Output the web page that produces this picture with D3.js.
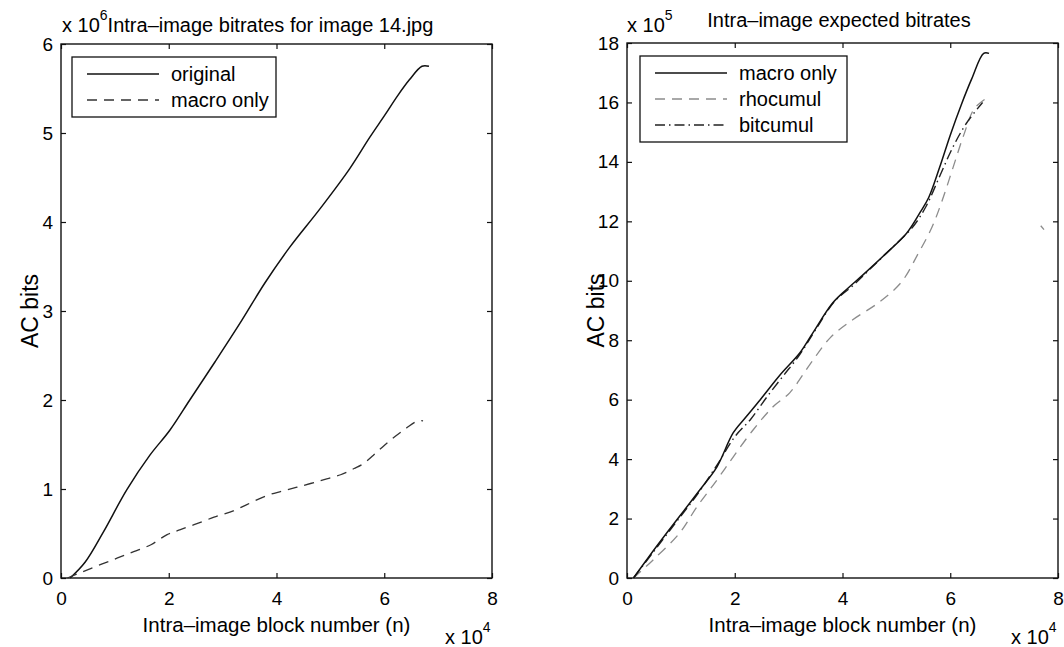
<!DOCTYPE html>
<html>
  <head>
    <meta charset="utf-8">
    <script src="https://cdn.jsdelivr.net/npm/d3@7"></script>
    <style>
      body { margin: 0; background: #fff; }
      text { font-family: "Liberation Sans", Arial, sans-serif; fill: #000; }
      .tick text { font-size: 19px; }
      .tick line { stroke: #111; stroke-width: 1.2; }
      .box { fill: none; stroke: #111; stroke-width: 1.4; }
      .legendbox { fill: #fff; stroke: #111; stroke-width: 1.3; }
    </style>
  </head>
  <body>
    <script>
      WIDTH = 1064
      HEIGHT = 647
      FONT = 20

      // tick labels
      var blockTicks = [0, 2, 4, 6, 8]
      var leftBitTicks = [0, 1, 2, 3, 4, 5, 6]
      var rightBitTicks = [0, 2, 4, 6, 8, 10, 12, 14, 16, 18]

      // left panel, x in 1e4 blocks, y in 1e6 bits
      var originalX = [0.17, 0.45, 0.78, 1.22, 1.65, 2.02, 2.39, 2.86, 3.32, 3.79, 4.25, 4.81, 5.36, 5.73, 6.01, 6.25, 6.47, 6.70, 6.83]
      var originalY = [0.00, 0.18, 0.51, 0.99, 1.38, 1.66, 2.00, 2.43, 2.86, 3.32, 3.72, 4.15, 4.60, 4.95, 5.20, 5.42, 5.60, 5.75, 5.75]

      // macro only, x in 1e4 blocks, y in 1e5 bits (shared by both panels)
      var macroX = [0.12, 0.40, 0.74, 1.05, 1.35, 1.67, 1.97, 2.20, 2.47, 2.84, 3.21, 3.45, 3.82, 4.10, 4.38, 4.82, 5.19, 5.44, 5.60, 5.80, 6.00, 6.20, 6.40, 6.62, 6.72]
      var macroY = [0.0, 0.7, 1.52, 2.25, 2.96, 3.74, 4.88, 5.4, 5.99, 6.83, 7.58, 8.25, 9.26, 9.75, 10.2, 10.94, 11.6, 12.3, 12.8, 13.8, 14.9, 15.9, 16.8, 17.65, 17.65]

      // right panel expected bitrates, x in 1e4, y in 1e5
      var rhoX = [0.12, 0.48, 0.98, 1.30, 1.67, 1.97, 2.34, 2.71, 3.02, 3.39, 3.77, 4.19, 4.69, 5.10, 5.40, 5.66, 5.85, 6.05, 6.25, 6.45, 6.72]
      var rhoY = [0.0, 0.6, 1.52, 2.4, 3.3, 4.07, 4.98, 5.76, 6.23, 7.17, 8.08, 8.69, 9.29, 9.97, 10.9, 11.8, 12.7, 13.8, 14.9, 15.8, 16.2]
      var rhoStrayX = [7.68, 7.74]
      var rhoStrayY = [11.85, 11.72]
      var bitX = [0.12, 0.50, 0.90, 1.30, 1.67, 2.00, 2.30, 2.60, 2.90, 3.20, 3.50, 3.85, 4.20, 4.60, 5.00, 5.30, 5.55, 5.80, 6.05, 6.30, 6.60]
      var bitY = [0.0, 0.9, 1.85, 2.8, 3.8, 4.75, 5.35, 6.1, 6.8, 7.5, 8.35, 9.3, 9.85, 10.55, 11.25, 11.8, 12.5, 13.5, 14.5, 15.3, 16.0]

      var svg = d3.select("body").append("svg")
        .attr("width", WIDTH)
        .attr("height", HEIGHT)
      svg.append("rect").attr("width", WIDTH).attr("height", HEIGHT).attr("fill", "#fff")

      // line styles (matlab-ish)
      var styles = {
        solid: { stroke: "#111", dash: null, width: 1.5 },
        dashed: { stroke: "#333", dash: "10,7", width: 1.3 },
        grey: { stroke: "#8c8c8c", dash: "10,7", width: 1.3 },
        dashdot: { stroke: "#222", dash: "10,4,1.5,4", width: 1.4 }
      }

      function zip(xs, ys, f) {
        return xs.map(function(d, i) { return [d, ys[i] * f] })
      }

      function panel(box, yMax, yTicks) {
        var x = d3.scaleLinear().domain([0, 8]).range([box.x0, box.x1])
        var y = d3.scaleLinear().domain([0, yMax]).range([box.y1, box.y0])

        // ticks point inward on all four sides
        svg.append("g").attr("transform", "translate(0," + box.y1 + ")")
          .call(d3.axisBottom(x).tickValues(blockTicks).tickSize(-5).tickPadding(14).tickSizeOuter(0))
        svg.append("g").attr("transform", "translate(0," + box.y0 + ")")
          .call(d3.axisTop(x).tickValues(blockTicks).tickSize(-5).tickFormat("").tickSizeOuter(0))
        svg.append("g").attr("transform", "translate(" + box.x0 + ",0)")
          .call(d3.axisLeft(y).tickValues(yTicks).tickFormat(d3.format("d")).tickSize(-5).tickPadding(8).tickSizeOuter(0))
        svg.append("g").attr("transform", "translate(" + box.x1 + ",0)")
          .call(d3.axisRight(y).tickValues(yTicks).tickSize(-5).tickFormat("").tickSizeOuter(0))
        svg.selectAll(".domain").remove()
        svg.selectAll(".tick text").attr("fill", "#000")

        svg.append("rect").attr("class", "box")
          .attr("x", box.x0).attr("y", box.y0)
          .attr("width", box.x1 - box.x0).attr("height", box.y1 - box.y0)

        // axis labels (the scan is a bit wider than the glyphs, so stretch them)
        svg.append("text")
          .attr("x", (box.x0 + box.x1) / 2).attr("y", 632)
          .attr("text-anchor", "middle").attr("font-size", 20.5)
          .text("Intra\u2013image block number (n)")
        svg.append("text")
          .attr("transform", "translate(" + (box.x0 - 23) + "," + ((box.y0 + box.y1) / 2) + ") rotate(-90)")
          .attr("text-anchor", "middle").attr("font-size", 23)
          .text("AC bits")

        // x 10^4 multiplier under the x axis
        var m = svg.append("text").attr("x", box.x1 - 47).attr("y", 644).attr("font-size", FONT)
        m.append("tspan").text("x 10")
        m.append("tspan").attr("dy", -12).attr("font-size", 14).text("4")

        return { x: x, y: y }
      }

      function curve(p, pts, st) {
        var line = d3.line().x(function(d) { return p.x(d[0]) }).y(function(d) { return p.y(d[1]) })
          .curve(d3.curveCatmullRom.alpha(0.5))
        svg.append("path").datum(pts)
          .attr("d", line)
          .attr("fill", "none")
          .attr("stroke", st.stroke)
          .attr("stroke-width", st.width)
          .attr("stroke-dasharray", st.dash)
      }

      function legend(bx, entries) {
        svg.append("rect").attr("class", "legendbox")
          .attr("x", bx.x).attr("y", bx.y).attr("width", bx.w).attr("height", bx.h)
        entries.forEach(function(e, i) {
          var yy = bx.y + 17 + i * 26
          svg.append("line")
            .attr("x1", bx.x + 15).attr("x2", bx.x + 87)
            .attr("y1", yy).attr("y2", yy)
            .attr("stroke", e.style.stroke).attr("stroke-width", e.style.width)
            .attr("stroke-dasharray", e.style.dash)
          svg.append("text")
            .attr("x", bx.x + 99).attr("y", yy).attr("dy", "0.35em")
            .attr("font-size", FONT)
            .text(e.label)
        })
      }

      // left panel
      var left = panel({ x0: 61, x1: 492, y0: 44, y1: 578 }, 6, leftBitTicks)
      curve(left, zip(originalX, originalY, 1), styles.solid)
      curve(left, zip(macroX, macroY, 0.1), styles.dashed)
      legend({ x: 72, y: 57, w: 204, h: 60 }, [
        { label: "original", style: styles.solid },
        { label: "macro only", style: styles.dashed }
      ])
      var t1 = svg.append("text").attr("x", 62).attr("y", 32).attr("font-size", FONT)
      t1.append("tspan").text("x 10")
      t1.append("tspan").attr("dy", -12).attr("font-size", 14).text("6")
      t1.append("tspan").attr("dy", 12).text("Intra\u2013image bitrates for image 14.jpg")

      // right panel
      var right = panel({ x0: 627, x1: 1058, y0: 43, y1: 578 }, 18, rightBitTicks)
      curve(right, zip(rhoX, rhoY, 1), styles.grey)
      curve(right, zip(rhoStrayX, rhoStrayY, 1), styles.grey)
      curve(right, zip(bitX, bitY, 1), styles.dashdot)
      curve(right, zip(macroX, macroY, 1), styles.solid)
      legend({ x: 640, y: 56, w: 207, h: 86 }, [
        { label: "macro only", style: styles.solid },
        { label: "rhocumul", style: styles.grey },
        { label: "bitcumul", style: styles.dashdot }
      ])
      var t2 = svg.append("text").attr("x", 627).attr("y", 32).attr("font-size", FONT)
      t2.append("tspan").text("x 10")
      t2.append("tspan").attr("dy", -12).attr("font-size", 14).text("5")
      svg.append("text").attr("x", 839).attr("y", 27).attr("text-anchor", "middle")
        .attr("font-size", FONT).text("Intra\u2013image expected bitrates")
    </script>
  </body>
</html>
